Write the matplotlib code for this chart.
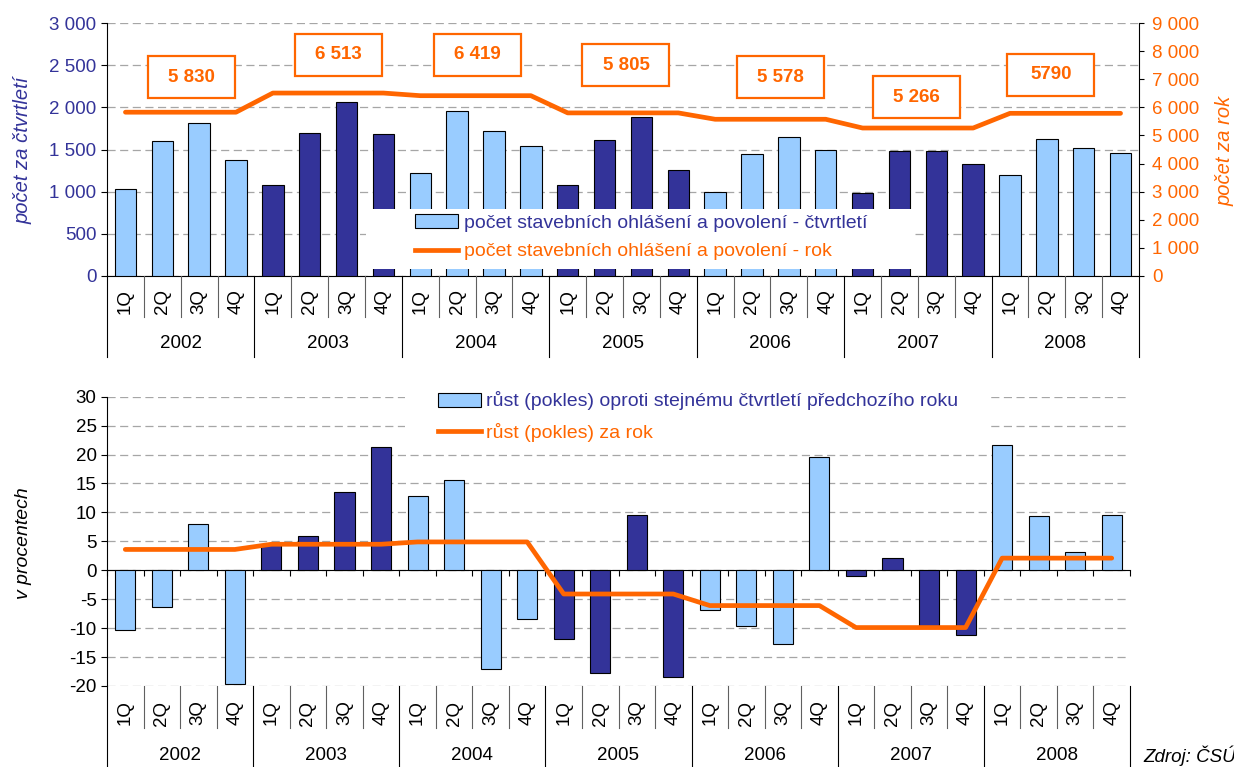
import matplotlib
matplotlib.use('Agg')
import numpy as np
import matplotlib.pyplot as plt
import matplotlib.transforms as mtransforms
from matplotlib.patches import Rectangle, Patch
from matplotlib.lines import Line2D

plt.rcParams['font.family'] = ['Liberation Sans', 'DejaVu Sans']
plt.rcParams['axes.unicode_minus'] = False

# ---------------- data ----------------
years = ['2002', '2003', '2004', '2005', '2006', '2007', '2008']
quarters = ['1Q', '2Q', '3Q', '4Q']
quarterly_count = [1030, 1600, 1820, 1380,
                   1075, 1693, 2069, 1681,
                   1217, 1955, 1717, 1539,
                   1075, 1610, 1887, 1253,
                   992, 1443, 1646, 1497,
                   983, 1479, 1479, 1325,
                   1194, 1622, 1515, 1459]
annual_count = [5830, 6513, 6419, 5805, 5578, 5266, 5790]
annual_labels = ['5 830', '6 513', '6 419', '5 805', '5 578', '5 266', '5790']
quarterly_growth = [-10.3, -6.3, 8.0, -19.6,
                    4.6, 5.9, 13.5, 21.3,
                    12.8, 15.6, -17.0, -8.4,
                    -11.9, -17.8, 9.6, -18.5,
                    -6.9, -9.7, -12.8, 19.6,
                    -1.0, 2.2, -9.7, -11.1,
                    21.7, 9.4, 3.2, 9.6]
annual_growth = [3.6, 4.5, 4.9, -4.1, -6.1, -9.9, 2.1]

left_ticks = [0, 500, 1000, 1500, 2000, 2500, 3000]
right_ticks = [0, 1000, 2000, 3000, 4000, 5000, 6000, 7000, 8000, 9000]
pct_ticks = [-20, -15, -10, -5, 0, 5, 10, 15, 20, 25, 30]

# label box placement (category position, right-axis value)
box_x = [1.78, 5.77, 9.56, 13.58, 17.78, 21.47, 25.11]
box_y = [7085, 7870, 7870, 7513, 7085, 6372, 7157]

# ---------------- style ----------------
ORANGE = '#FF6600'
DARK = '#333399'
LIGHT = '#99CCFF'
GRID = '#A6A6A6'
W, H = 1234, 767
FS = 13.5


def fx(px):
    return px / W


def fy(py):
    return 1 - py / H


def fmt(v):
    return f'{v:,}'.replace(',', ' ')


fig = plt.figure(figsize=(W / 100, H / 100), dpi=100)
fig.patch.set_facecolor('white')

n = len(quarterly_count)
x = np.arange(n)
year_idx = np.repeat(np.arange(len(years)), 4)
bar_colors = [LIGHT if yi % 2 == 0 else DARK for yi in year_idx]
dash = (0, (6.5, 3.6))

# ---------------- top chart ----------------
ax1 = fig.add_axes([fx(107), fy(275.7), fx(1139 - 107), (275.7 - 23.3) / H])
ax1.set_xlim(-0.5, n - 0.5)
ax1.set_ylim(0, 3000)
ax1.bar(x, quarterly_count, width=0.58, color=bar_colors, edgecolor='black',
        linewidth=0.8, zorder=3)
ax1.set_yticks(left_ticks)
ax1.set_yticklabels([fmt(v) for v in left_ticks])
ax1.yaxis.grid(True, color=GRID, linestyle=dash, linewidth=0.9)
ax1.set_axisbelow(True)
ax1.spines['top'].set_visible(False)
ax1.spines['right'].set_visible(False)
ax1.set_xticks([])
ax1.tick_params(axis='y', direction='out', length=4.5, width=0.8,
                labelsize=FS, labelcolor=DARK, pad=3)

ax1r = ax1.twinx()
ax1r.set_ylim(0, 9000)
ax1r.plot(x, np.repeat(annual_count, 4), color=ORANGE, lw=3.4,
          solid_capstyle='round', zorder=4)
ax1r.set_yticks(right_ticks)
ax1r.set_yticklabels([fmt(v) for v in right_ticks])
for sp in ['top', 'left', 'bottom']:
    ax1r.spines[sp].set_visible(False)
ax1r.tick_params(axis='y', direction='out', length=3.5, width=0.8,
                 labelsize=FS, labelcolor=ORANGE, pad=6)

# value boxes
ident = mtransforms.IdentityTransform()
for bx, by, lab in zip(box_x, box_y, annual_labels):
    cx, cy = ax1r.transData.transform((bx, by))
    fig.add_artist(Rectangle((cx - 43.5, cy - 21), 87, 42, transform=ident,
                             facecolor='white', edgecolor=ORANGE, linewidth=1.6,
                             zorder=3))
    fig.text(cx, cy, lab, transform=ident, ha='center', va='center',
             fontsize=13.5, fontweight='bold', color=ORANGE, zorder=4)

# top legend
fig.add_artist(Rectangle((fx(366), fy(269)), fx(914 - 366), (269 - 209) / H,
                         transform=fig.transFigure, facecolor='white',
                         edgecolor='none', zorder=2))
h1 = [Patch(facecolor=LIGHT, edgecolor='black', linewidth=0.8),
      Line2D([0], [0], color=ORANGE, lw=3.4)]
leg1 = fig.legend(h1, ['počet stavebních ohlášení a povolení - čtvrtletí',
                       'počet stavebních ohlášení a povolení - rok'],
                  loc='upper left', bbox_to_anchor=(fx(415), fy(214.5)),
                  frameon=False, fontsize=14, borderpad=0, borderaxespad=0,
                  handlelength=2.2, handletextpad=0.3, labelspacing=0.55)
leg1.set_zorder(5)
leg1.get_texts()[0].set_color(DARK)
leg1.get_texts()[1].set_color(ORANGE)

# ---------------- bottom chart ----------------
ax2 = fig.add_axes([fx(107), fy(686), fx(1130 - 107), (686 - 396.7) / H])
ax2.set_xlim(-0.5, n - 0.5)
ax2.set_ylim(-20, 30)
ax2.bar(x, quarterly_growth, width=0.55, color=bar_colors, edgecolor='black',
        linewidth=0.8, zorder=3)
ax2.plot(x, np.repeat(annual_growth, 4), color=ORANGE, lw=3.4,
         solid_capstyle='round', zorder=4)
ax2.set_yticks(pct_ticks)
ax2.yaxis.grid(True, color=GRID, linestyle=dash, linewidth=0.9)
ax2.set_axisbelow(True)
ax2.spines['top'].set_visible(False)
ax2.spines['right'].set_visible(False)
ax2.spines['bottom'].set_position(('data', 0))
ax2.set_xticks(np.arange(n + 1) - 0.5)
ax2.set_xticklabels([])
ax2.tick_params(axis='x', direction='out', length=4.5, width=0.8)
ax2.tick_params(axis='y', direction='out', length=4.5, width=0.8,
                labelsize=FS, labelcolor='black', pad=3)

fig.add_artist(Rectangle((fx(405), fy(445)), fx(988 - 405), (445 - 386) / H,
                         transform=fig.transFigure, facecolor='white',
                         edgecolor='none', zorder=2))
h2 = [Patch(facecolor=LIGHT, edgecolor='black', linewidth=0.8),
      Line2D([0], [0], color=ORANGE, lw=3.4)]
leg2 = fig.legend(h2, ['růst (pokles) oproti stejnému čtvrtletí předchozího roku',
                       'růst (pokles) za rok'],
                  loc='upper left', bbox_to_anchor=(fx(438), fy(391.5)),
                  frameon=False, fontsize=14, borderpad=0, borderaxespad=0,
                  handlelength=2.2, handletextpad=0.25, labelspacing=0.65)
leg2.set_zorder(5)
leg2.get_texts()[0].set_color(DARK)
leg2.get_texts()[1].set_color(ORANGE)


# ---------------- category axes ----------------
def category_axis(ax, top_px, q_sep_px, q_lab_px, y_sep_px, y_lab_px):
    tr = mtransforms.blended_transform_factory(ax.transData, fig.transFigure)
    for k in range(n + 1):
        b = k - 0.5
        year_sep = (k % 4 == 0)
        end = y_sep_px if year_sep else q_sep_px
        fig.add_artist(Line2D([b, b], [fy(top_px), fy(end)], transform=tr,
                              color='black' if year_sep else '#606060',
                              lw=0.8, zorder=3))
    for i in range(n):
        fig.text(i, fy(q_lab_px), quarters[i % 4], transform=tr, rotation=90,
                 ha='center', va='center', fontsize=13.5)
    for j, yr in enumerate(years):
        fig.text(4 * j + 1.5, fy(y_lab_px), yr, transform=tr, ha='center',
                 va='center', fontsize=FS)


category_axis(ax1, 275.7, 317, 302, 357, 343)
category_axis(ax2, 686, 728, 713, 772, 755)

# ---------------- axis titles & source ----------------
fig.text(fx(23), fy(150), 'počet za čtvrtletí', rotation=90, ha='center',
         va='center', fontsize=14.5, style='italic', color=DARK)
fig.text(fx(1225), fy(151), 'počet za rok', rotation=90, ha='center',
         va='center', fontsize=14.5, style='italic', color=ORANGE)
fig.text(fx(24), fy(543), 'v procentech', rotation=90, ha='center',
         va='center', fontsize=14, style='italic', color='black')
fig.text(fx(1143), fy(766), 'Zdroj: ČSÚ', ha='left', va='bottom',
         fontsize=FS, style='italic', color='black')

fig.savefig('out.png', dpi=100)
